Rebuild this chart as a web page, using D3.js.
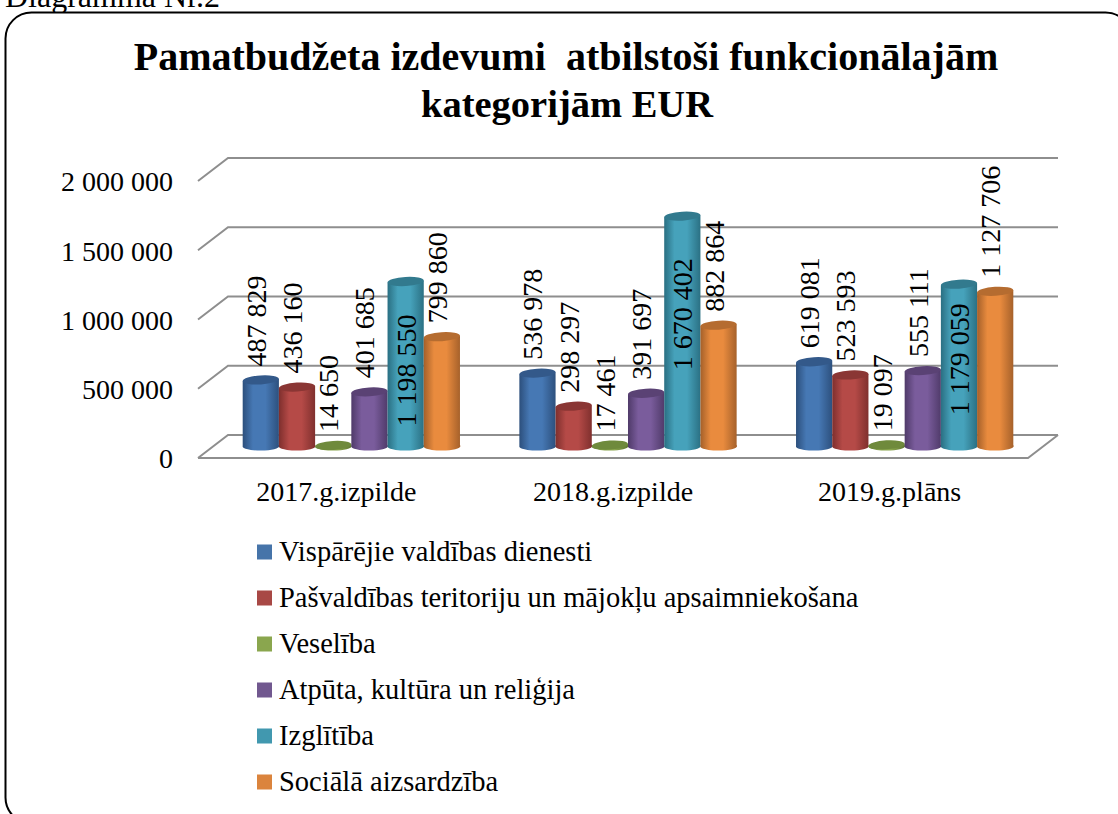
<!DOCTYPE html>
<html>
<head>
<meta charset="utf-8">
<script src="https://cdn.jsdelivr.net/npm/d3@7/dist/d3.min.js"></script>
<style>
  html, body { margin: 0; padding: 0; background: #fff; overflow: hidden; }
  text { font-family: "Liberation Serif", serif; fill: #000; }
</style>
</head>
<body>
<div id="chart"></div>
<script>
// Data
const years = ["2017.g.izpilde", "2018.g.izpilde", "2019.g.plāns"];
const seriesNames = [
  "Vispārējie valdības dienesti",
  "Pašvaldības teritoriju un mājokļu apsaimniekošana",
  "Veselība",
  "Atpūta, kultūra un reliģija",
  "Izglītība",
  "Sociālā aizsardzība"
];
const vispareja  = [487829, 536978, 619081];
const pasvaldiba = [436160, 298297, 523593];
const veseliba   = [14650, 17461, 19097];
const atputa     = [401685, 391697, 555111];
const izglitiba  = [1198550, 1670402, 1179059];
const sociala    = [799860, 882864, 1127706];
const seriesValues = [vispareja, pasvaldiba, veseliba, atputa, izglitiba, sociala];
const yTicks = [0, 500000, 1000000, 1500000, 2000000];

// Colours: body, dark edge, top cap
const colors = [
  { mid: "#4678b4", edge: "#2c4f7c", cap: "#33598a", key: "#4674a9" },
  { mid: "#b54a47", edge: "#7e2f2d", cap: "#8a3634", key: "#a84845" },
  { mid: "#8aa64e", edge: "#5f7633", cap: "#6f8a3c", key: "#8aa64e" },
  { mid: "#7a5c9c", edge: "#4f3a69", cap: "#5a4274", key: "#71588f" },
  { mid: "#46a2bb", edge: "#2a6f82", cap: "#327a8e", key: "#4198af" },
  { mid: "#e98b3e", edge: "#a4602a", cap: "#b56c30", key: "#db843d" }
];

const width = 1118, height = 814;
const depthX = 30, depthY = 23;      // 3D shift of the back wall
const frontY = 458;                  // floor line at the front

const svg = d3.select("#chart").append("svg")
  .attr("width", width)
  .attr("height", height);

const defs = svg.append("defs");
colors.forEach((c, i) => {
  const g = defs.append("linearGradient").attr("id", "cyl" + i);
  g.append("stop").attr("offset", "0%").attr("stop-color", c.edge);
  g.append("stop").attr("offset", "28%").attr("stop-color", c.mid);
  g.append("stop").attr("offset", "62%").attr("stop-color", c.mid);
  g.append("stop").attr("offset", "100%").attr("stop-color", c.edge);
});

// Heading above the frame, cut by the page top
svg.append("text")
  .attr("x", 5).attr("y", 7)
  .style("font-size", "32px")
  .text("Diagramma Nr.2");

// Rounded frame running off the page
svg.append("rect")
  .attr("x", 5.5).attr("y", 12.5)
  .attr("width", 1126).attr("height", 811)
  .attr("rx", 26).attr("ry", 26)
  .attr("fill", "#fff")
  .attr("stroke", "#000")
  .attr("stroke-width", 2);

// Title
const title = svg.append("text")
  .attr("text-anchor", "middle")
  .style("font-size", "40px")
  .style("font-weight", "bold");
title.append("tspan").attr("x", 566).attr("y", 70)
  .attr("xml:space", "preserve")
  .text("Pamatbudžeta izdevumi  atbilstoši funkcionālajām");
title.append("tspan").attr("x", 567).attr("y", 117)
  .style("font-size", "38.5px")
  .text("kategorijām EUR");

// Scales
const x0 = d3.scaleBand().domain(years).range([198, 1028]);
const x1 = d3.scaleBand().domain(d3.range(seriesNames.length))
  .range([0, x0.bandwidth()]).paddingOuter(0.82).paddingInner(0);
const y = d3.scaleLinear().domain([0, 2000000]).range([frontY, frontY - 277]);

// Back wall gridlines and side walls
const grid = svg.append("g").attr("fill", "none")
  .attr("stroke", "#8e8e8e").attr("stroke-width", 2);
yTicks.forEach(t => {
  grid.append("path")
    .attr("d", d3.line()([
      [198, y(t)],
      [198 + depthX, y(t) - depthY],
      [1028 + depthX, y(t) - depthY]
    ]));
});
grid.append("path")
  .attr("d", d3.line()([
    [198, frontY],
    [1028, frontY],
    [1028 + depthX, frontY - depthY]
  ]));

// Y axis labels
const yAxis = svg.append("g")
  .attr("transform", "translate(173,1)")
  .call(d3.axisLeft(y).tickValues(yTicks).tickSize(0)
    .tickFormat(d => d3.format(",")(d).replace(/,/g, " ")));
yAxis.select(".domain").remove();
yAxis.selectAll("text")
  .attr("dy", "0.32em").attr("x", 0)
  .style("font-size", "28px").style("font-family", "'Liberation Serif', serif");

// Category labels
const xAxis = svg.append("g")
  .attr("transform", "translate(0,481)")
  .call(d3.axisBottom(x0).tickSize(0));
xAxis.select(".domain").remove();
xAxis.selectAll("text")
  .attr("y", 0).attr("dy", "0.71em")
  .style("font-size", "28px").style("font-family", "'Liberation Serif', serif");

// Cylinders stand halfway into the floor depth
const barShift = depthX / 2;
const baseY = frontY - 10.5;
const bottomY = baseY - 1.5;
const ry = 4.5;
const tilt = -3.5;
const barH = v => y(0) - y(v);

years.forEach((yr, yi) => {
  const group = svg.append("g").attr("transform", `translate(${x0(yr) + barShift},0)`);
  seriesValues.forEach((vals, si) => {
    const v = vals[yi];
    const cx = x1(si) + x1.bandwidth() / 2;
    const rx = x1.bandwidth() / 2;
    const topY = baseY - barH(v);
    const bar = group.append("g");
    bar.append("path")
      .attr("fill", `url(#cyl${si})`)
      .attr("d", `M${cx - rx},${topY + 1} L${cx - rx},${bottomY + 1}
        A${rx},${ry} 0 0 0 ${cx + rx},${bottomY - 1}
        L${cx + rx},${topY - 1} Z`);
    bar.append("ellipse")
      .attr("cx", cx).attr("cy", topY)
      .attr("rx", rx).attr("ry", ry)
      .attr("transform", `rotate(${tilt} ${cx} ${topY})`)
      .attr("fill", colors[si].cap);
  });
});

// Data labels on top so the bars never hide them
const labelText = d3.format(",");
// Izglītība labels sit inside the bar, each by its own distance from the top
const insideOffset = [89, 98, 75];
years.forEach((yr, yi) => {
  const group = svg.append("g").attr("transform", `translate(${x0(yr) + barShift},0)`);
  seriesValues.forEach((vals, si) => {
    const v = vals[yi];
    const cx = x1(si) + x1.bandwidth() / 2;
    const topY = baseY - barH(v);
    const inside = si === 4;
    const ly = inside ? topY + insideOffset[yi] : topY - 13.5;
    group.append("text")
      .attr("transform", `translate(${cx + (inside ? 10 : 5)},${ly}) rotate(-90)`)
      .attr("text-anchor", inside ? "middle" : "start")
      .style("font-size", "28px")
      .text(labelText(v).replace(/,/g, " "));
  });
});

// Legend
const legendY = d3.scalePoint().domain(seriesNames).range([552, 782]);
const legend = svg.append("g");
seriesNames.forEach((name, i) => {
  legend.append("rect")
    .attr("x", 257).attr("y", legendY(name) - 7.5)
    .attr("width", 15).attr("height", 15)
    .attr("fill", colors[i].key);
  legend.append("text")
    .attr("x", 279).attr("y", legendY(name) + 9)
    .style("font-size", "28.5px")
    .text(name);
});
</script>
</body>
</html>
